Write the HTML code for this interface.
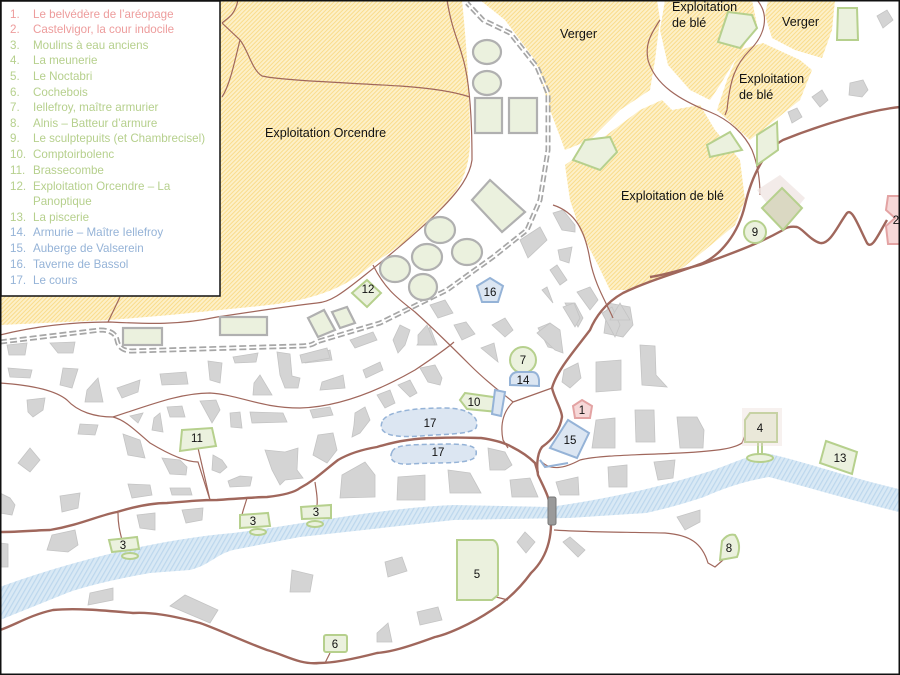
<!DOCTYPE html>
<html><head><meta charset="utf-8"><style>
html,body{margin:0;padding:0;background:#fff}
svg{display:block}
text{font-family:"Liberation Sans",sans-serif}
</style></head><body>
<svg width="900" height="675" viewBox="0 0 900 675" xmlns="http://www.w3.org/2000/svg">
<defs>
<pattern id="fh" width="3" height="3" patternUnits="userSpaceOnUse" patternTransform="rotate(45)">
<rect width="3" height="3" fill="#fdf0c8"/><rect width="1" height="3" fill="#f9dc8c"/></pattern>
<pattern id="wh" width="4" height="4" patternUnits="userSpaceOnUse" patternTransform="rotate(30)">
<rect width="4" height="4" fill="#d9e9f5"/><rect width="1.2" height="4" fill="#bcd7ed"/></pattern>
</defs>
<rect width="900" height="675" fill="#fff"/>
<g fill="url(#fh)">
<path d="M0,0 L462,0 C466,40 470,90 470,140 C470,175 455,195 440,210 C420,232 395,250 375,262 C350,285 320,300 260,306 L170,315 L110,320 L0,325 Z"/>
<path d="M480,0 L657,0 L660,20 L655,60 L650,90 L620,110 L590,140 L565,150 L550,110 L535,60 L505,20 Z"/>
<path d="M565,165 L600,140 L640,110 L662,100 L672,110 L700,105 L715,130 L740,160 L745,200 L735,225 L705,250 L680,270 L630,290 L610,290 L598,265 L580,230 L570,200 Z"/>
<path d="M665,0 L752,0 L757,25 L735,60 L720,85 L710,100 L690,90 L668,65 L660,30 Z"/>
<path d="M768,0 L835,0 L832,30 L822,58 L795,50 L772,38 L765,15 Z"/>
<path d="M763,43 L800,60 L812,70 L800,100 L750,140 L717,110 L727,80 L740,50 Z"/>
</g>
<path d="M0,587 C60,565 150,540 233,533 C300,525 380,508 454,505 L550,507 C600,500 650,490 704,473 C730,465 745,456 765,453 C800,460 850,478 903,490 L903,513 C850,500 800,485 769,477 C740,482 720,490 704,497 C680,505 660,510 646,513 L569,518 L454,520 L300,537 L233,550 C215,555 210,565 190,570 L150,573 C110,580 80,588 67,593 L0,620 Z" fill="url(#wh)"/>
<path d="M0,342 L100,330 Q115,330 117,340 Q119,351 132,351 L300,346 Q312,346 316,342 L380,323 L447,290 L493,257 L527,230 L540,200 L548,150 L548,93 L537,67 L510,33 L483,20 L467,3" fill="none" stroke="#a6a6a6" stroke-width="5" stroke-dasharray="7,3"/>
<path d="M0,342 L100,330 Q115,330 117,340 Q119,351 132,351 L300,346 Q312,346 316,342 L380,323 L447,290 L493,257 L527,230 L540,200 L548,150 L548,93 L537,67 L510,33 L483,20 L467,3" fill="none" stroke="#fff" stroke-width="1.6"/>
<g fill="#d4d4d4" stroke="#c4c4c4" stroke-width="0.8">
<polygon points="7,345 27,343 25,355 9,355"/><polygon points="50,343 75,342 73,353 58,353"/>
<polygon points="8,368 32,370 30,378 10,377"/><polygon points="63,368 78,369 72,388 60,385"/>
<polygon points="98,378 103,402 85,402 87,390"/><polygon points="117,388 140,380 138,392 122,398"/>
<polygon points="160,374 186,372 188,384 162,385"/><polygon points="208,361 222,363 220,383 210,380"/>
<polygon points="233,357 258,353 256,362 235,363"/><polygon points="277,352 290,354 292,376 300,378 298,388 285,388 280,375"/>
<polygon points="260,375 272,395 253,395 254,383"/><polygon points="302,358 330,350 332,360 305,363"/>
<polygon points="322,382 343,375 345,388 320,390"/><polygon points="350,340 373,332 377,340 355,348"/>
<polygon points="400,325 410,330 405,345 398,353 393,340"/><polygon points="430,327 437,345 417,345"/>
<polygon points="363,370 380,362 383,370 366,378"/><polygon points="420,368 435,365 442,378 440,385 428,382"/>
<polygon points="398,385 410,380 417,393 410,397"/><polygon points="377,395 390,390 395,403 385,408"/>
<polygon points="355,413 365,407 370,420 360,433 352,437 354,425"/><polygon points="310,410 330,407 333,415 313,418"/>
<polygon points="318,435 333,433 337,450 327,463 313,455"/><polygon points="265,450 285,452 298,448 297,470 303,478 285,480 280,485 272,470"/>
<polygon points="250,412 283,413 287,422 252,423"/><polygon points="230,413 240,412 242,428 231,427"/>
<polygon points="200,401 216,400 220,410 212,423"/><polygon points="167,407 182,406 185,417 170,417"/>
<polygon points="160,413 163,432 152,430 154,418"/><polygon points="130,416 143,413 138,423"/>
<polygon points="123,434 140,440 145,458 128,455"/><polygon points="80,424 98,425 95,435 78,434"/>
<polygon points="27,400 45,398 43,410 33,417 28,412"/><polygon points="30,448 40,460 30,472 18,463"/>
<polygon points="162,458 180,460 187,467 186,475 170,474"/><polygon points="213,455 222,460 227,467 220,473 212,470"/>
<polygon points="228,481 240,476 252,477 250,486 230,487"/><polygon points="128,484 150,485 152,495 132,498"/>
<polygon points="170,488 190,488 192,495 172,495"/><polygon points="60,496 80,493 78,508 62,512"/>
<polygon points="0,493 10,498 15,505 12,515 0,513"/><polygon points="137,515 155,513 155,530 140,528"/>
<polygon points="182,510 203,508 202,520 186,523"/><polygon points="52,535 75,530 78,545 68,552 47,550"/>
<polygon points="0,543 8,544 8,567 0,567"/><polygon points="342,475 365,462 375,475 375,497 340,498"/>
<polygon points="398,477 425,475 425,500 397,500"/><polygon points="90,593 113,588 113,600 88,605"/>
<polygon points="170,606 185,595 218,610 210,623"/><polygon points="292,570 313,575 310,592 290,592"/>
<polygon points="385,562 402,557 407,571 388,577"/><polygon points="377,633 388,623 392,642 377,642"/>
<polygon points="417,612 438,607 442,620 420,625"/><polygon points="488,448 505,452 512,465 505,470 490,470"/>
<polygon points="510,480 530,478 538,497 512,497"/><polygon points="448,470 470,473 481,493 450,493"/>
<polygon points="556,482 578,477 579,495 560,495"/><polygon points="608,467 627,465 627,487 609,487"/>
<polygon points="654,462 675,460 673,478 658,480"/><polygon points="596,420 615,418 615,448 592,448"/>
<polygon points="635,410 654,410 655,442 636,442"/><polygon points="677,417 697,417 704,430 703,448 680,448"/>
<polygon points="596,362 621,360 621,390 596,392"/><polygon points="640,345 655,346 656,375 667,387 642,385"/>
<polygon points="564,370 578,363 581,378 570,388 562,382"/><polygon points="608,303 630,307 633,325 623,337 604,333"/>
<polygon points="677,517 700,510 700,522 685,530"/><polygon points="517,542 525,532 535,542 526,553"/>
<polygon points="563,542 570,537 585,550 578,557"/><polygon points="538,328 550,323 560,338 560,350 548,347"/>
<polygon points="565,303 575,303 583,318 578,327"/><polygon points="492,325 505,318 513,330 505,337"/>
<polygon points="454,325 466,322 475,334 462,340"/><polygon points="481,348 494,343 498,362"/>
<polygon points="553,213 563,210 575,225 575,232 562,230"/><polygon points="520,240 540,227 547,240 528,258"/>
<polygon points="558,250 572,247 569,263 560,260"/><polygon points="550,270 557,265 567,280 560,285"/>
<polygon points="542,290 547,287 553,303"/><polygon points="577,292 590,287 598,300 590,310"/>
<polygon points="563,307 574,303 580,318 575,327"/><polygon points="537,333 550,323 560,330 563,353 555,350"/>
<polygon points="602,313 612,307 620,325 615,337"/><polygon points="430,305 445,300 453,313 438,318"/>
<polygon points="418,335 427,325 435,345 418,345"/><polygon points="300,355 327,348 330,358 302,363"/>
<polygon points="610,320 620,303 630,320"/><polygon points="877,16 887,10 893,20 883,28"/>
<polygon points="850,83 863,80 868,90 862,97 849,95"/><polygon points="812,97 822,90 828,100 820,107"/>
<polygon points="788,112 797,108 802,117 792,123"/>
</g>
<g fill="none" stroke="#a0675c" stroke-width="1.2">
<path d="M108,322 L120,297"/>
<path d="M0,335 C40,325 80,322 110,322 C150,324 180,325 217,317 C250,312 290,306 317,303 C330,302 340,295 365,275 C390,255 420,230 440,210 C460,190 470,175 472,160 C472,120 470,80 462,55 C458,40 452,30 447,0"/>
<path d="M222,23 L240,40 C235,60 230,85 222,97 M240,40 C248,50 252,70 262,76 C280,80 330,82 400,86 C430,88 455,92 470,97"/>
<path d="M222,23 C228,18 235,15 238,0"/>
<path d="M373,265 C385,290 400,300 415,312 C435,330 450,345 470,365 C490,385 505,395 513,402"/>
<path d="M0,383 C30,385 55,390 67,400 C78,412 95,417 113,417 C125,420 135,430 150,443 C165,452 185,462 198,462 L210,500"/>
<path d="M113,417 C150,405 180,393 210,393 C240,395 260,408 300,408 C340,407 380,390 415,370 C430,360 445,350 454,342"/>
<path d="M198,448 L210,500"/>
<path d="M513,402 L552,388 M513,402 C503,412 500,425 503,440 L508,448"/>
<path d="M540,460 C550,472 565,468 580,460 C600,455 640,455 680,453 C720,451 735,448 742,443 L746,433"/>
<path d="M554,530 C580,532 620,532 665,533 C690,535 702,543 708,563 L715,567 L723,560"/>
<path d="M496,597 L508,600"/>
<path d="M118,513 C118,525 120,532 122,540 M247,498 C245,505 243,510 242,515 M315,482 C316,490 318,498 317,505 M325,663 L330,653"/>
<path d="M660,20 C650,35 645,45 648,60 C655,85 680,100 710,112 C730,120 745,135 752,150 C758,165 760,180 760,195"/>
<path d="M757,0 C770,15 765,35 750,50 C735,65 730,80 727,110 L725,115"/>
<path d="M553,205 C575,212 585,230 590,260 C595,285 605,300 613,318"/>
</g>
<g fill="none" stroke="#a0675c" stroke-width="2.4">
<path d="M900,107 C870,110 820,125 783,140 C765,150 752,175 745,205 C738,235 720,255 703,263 C680,272 650,280 623,293 C605,303 595,318 590,330 C575,350 557,370 552,388 C555,400 562,410 562,417 C560,430 552,440 542,447 C536,455 537,470 538,475 C545,490 550,498 550,510 C553,530 550,555 531,573 C515,595 500,605 492,610 C470,625 445,635 435,637 C405,648 390,652 377,653 C350,660 330,663 319,663 C300,665 285,655 267,650 C240,640 220,630 200,623 C170,615 150,612 133,613 C100,610 75,608 53,610 C30,615 15,625 0,630"/>
<path d="M887,220 C878,235 872,250 867,243 C858,225 852,208 847,213 C838,225 830,245 820,243 C810,240 802,228 797,227 C790,226 785,228 783,230 C765,240 750,247 700,265 C680,270 665,275 650,277"/>
<path d="M0,532 C20,532 40,530 50,530 C80,525 100,515 117,512 C140,505 155,503 167,503 C190,501 200,500 217,500 C245,498 260,497 267,497 C285,495 295,492 300,488 C315,480 325,470 338,460 C350,453 365,449 377,447 C400,440 420,438 435,438 C460,437 475,438 481,438 C495,440 505,443 512,447 C522,452 530,458 535,463 L538,473"/>
</g>
<rect x="548" y="497" width="8" height="28" rx="2" fill="#9a9a9a" stroke="#777"/>
<g fill="#ebf1de" stroke="#b0b0b0" stroke-width="2.2">
<ellipse cx="487" cy="52" rx="14" ry="12"/><ellipse cx="487" cy="83" rx="14" ry="12"/>
<rect x="475" y="98" width="27" height="35"/><rect x="509" y="98" width="28" height="35"/>
<polygon points="490,180 525,212 502,232 472,200"/>
<ellipse cx="440" cy="230" rx="15" ry="13"/><ellipse cx="467" cy="252" rx="15" ry="13"/>
<ellipse cx="427" cy="257" rx="15" ry="13"/><ellipse cx="395" cy="269" rx="15" ry="13"/>
<ellipse cx="423" cy="287" rx="14" ry="13"/>
<rect x="123" y="328" width="39" height="17"/><rect x="220" y="317" width="47" height="18"/>
<polygon points="308,318 324,310 335,330 318,337"/><polygon points="332,312 347,307 355,323 340,328"/>
</g>
<g fill="#ebf1de" stroke="#b6d08d" stroke-width="2">
<polygon points="367,280 381,293 367,307 352,293"/>
<polygon points="728,12 752,15 757,28 740,48 718,42"/>
<polygon points="838,8 857,8 858,40 837,40"/>
<polygon points="585,140 610,137 617,152 600,170 573,160"/>
<polygon points="707,145 730,132 742,150 710,157"/>
<polygon points="757,135 777,122 778,150 757,165"/>
<circle cx="755" cy="232" r="11"/>
<circle cx="523" cy="360" r="13"/>
<polygon points="465,393 500,398 498,412 467,409 460,400"/>
<polygon points="182,430 212,428 216,446 180,451"/>
<polygon points="109,540 137,537 139,549 112,552"/><ellipse cx="130" cy="556" rx="8" ry="3"/>
<polygon points="240,515 268,513 270,526 240,528"/><ellipse cx="258" cy="532" rx="8" ry="3"/>
<polygon points="301,507 331,505 331,518 302,519"/><ellipse cx="315" cy="524" rx="8" ry="3"/>
<path d="M750,413 L777,413 L777,442 L745,442 L745,420 Z"/>
<path d="M758,442 L758,454 M762,442 L762,454"/><ellipse cx="760" cy="458" rx="13" ry="4"/>
<polygon points="826,441 857,452 852,474 820,463"/>
<path d="M722,541 Q728,533 735,535 Q742,545 737,557 L720,560 Z"/>
<path d="M457,540 L493,540 Q498,542 498,550 L498,595 L492,600 L457,600 Z"/>
<rect x="324" y="635" width="23" height="17" rx="2"/>
</g>
<polygon points="757,190 780,175 805,198 783,225" fill="#f0e6e3" opacity="0.8"/>
<polygon points="782,188 802,208 783,230 762,208" fill="#dad8c2" stroke="#b6d08d" stroke-width="2"/>
<rect x="742" y="408" width="40" height="38" fill="#e8d8d2" opacity="0.35"/>
<g fill="#f6d8d8" stroke="#e3a3a3" stroke-width="2">
<polygon points="582,400 592,406 590,418 575,418 573,406"/>
<path d="M900,196 L888,196 L886,210 L895,218 L886,226 L888,244 L900,244"/>
</g>
<g fill="#dce6f2" stroke="#95b3d7" stroke-width="2">
<polygon points="490,278 503,286 498,302 482,302 477,286"/>
<path d="M510,385 L510,378 Q512,372 518,372 L532,372 Q538,372 539,380 L539,386 Z"/>
<polygon points="495,390 505,392 501,416 492,414"/>
<polygon points="568,420 589,433 577,458 550,448"/>
<polyline points="540,460 545,467 568,463" fill="none"/>
</g>
<g fill="#dce6f2" stroke="#95b3d7" stroke-width="1.5" stroke-dasharray="5,3">
<path d="M383,420 C390,410 420,408 445,408 C470,408 480,418 476,428 C470,435 440,434 420,436 C395,438 375,435 383,420 Z"/>
<path d="M392,452 C395,443 420,445 445,444 C470,444 478,446 476,455 C474,465 440,462 410,464 C395,465 388,460 392,452 Z"/>
</g>
<g font-size="12.6" fill="#111">
<text x="265" y="137">Exploitation Orcendre</text>
<text x="560" y="38">Verger</text>
<text x="672" y="11">Exploitation</text><text x="672" y="27">de blé</text>
<text x="782" y="26">Verger</text>
<text x="739" y="83">Exploitation</text><text x="739" y="99">de blé</text>
<text x="621" y="200">Exploitation de blé</text>
</g>
<g font-size="11.5" fill="#111" text-anchor="middle">
<text x="368" y="293">12</text><text x="490" y="296">16</text><text x="755" y="236">9</text>
<text x="523" y="364">7</text><text x="523" y="384">14</text><text x="474" y="406">10</text>
<text x="582" y="414">1</text><text x="570" y="444">15</text><text x="430" y="427">17</text><text x="438" y="456">17</text>
<text x="197" y="442">11</text><text x="123" y="549">3</text><text x="253" y="525">3</text><text x="316" y="516">3</text>
<text x="760" y="432">4</text><text x="840" y="462">13</text><text x="729" y="552">8</text>
<text x="477" y="578">5</text><text x="335" y="648">6</text><text x="896" y="224">2</text>
</g>
<rect x="1" y="1" width="219" height="295" fill="#fff" stroke="#111" stroke-width="1.5"/>
<g font-size="11.6">
<g fill="#ed9c9c"><text x="10" y="18">1.</text><text x="33" y="18">Le belvédère de l’aréopage</text>
<text x="10" y="33">2.</text><text x="33" y="33">Castelvigor, la cour indocile</text></g>
<g fill="#b6d08d">
<text x="10" y="49">3.</text><text x="33" y="49">Moulins à eau anciens</text>
<text x="10" y="64">4.</text><text x="33" y="64">La meunerie</text>
<text x="10" y="80">5.</text><text x="33" y="80">Le Noctabri</text>
<text x="10" y="96">6.</text><text x="33" y="96">Cochebois</text>
<text x="10" y="111">7.</text><text x="33" y="111">Iellefroy, maître armurier</text>
<text x="10" y="127">8.</text><text x="33" y="127">Alnis – Batteur d’armure</text>
<text x="10" y="142">9.</text><text x="33" y="142">Le sculptepuits (et Chambrecisel)</text>
<text x="10" y="158">10.</text><text x="33" y="158">Comptoirbolenc</text>
<text x="10" y="174">11.</text><text x="33" y="174">Brassecombe</text>
<text x="10" y="190">12.</text><text x="33" y="190">Exploitation Orcendre – La</text>
<text x="33" y="205">Panoptique</text>
<text x="10" y="221">13.</text><text x="33" y="221">La piscerie</text></g>
<g fill="#95b3d7">
<text x="10" y="236">14.</text><text x="33" y="236">Armurie – Maître Iellefroy</text>
<text x="10" y="252">15.</text><text x="33" y="252">Auberge de Valserein</text>
<text x="10" y="268">16.</text><text x="33" y="268">Taverne de Bassol</text>
<text x="10" y="284">17.</text><text x="33" y="284">Le cours</text></g>
</g>
<rect x="0.5" y="0.5" width="899" height="674" fill="none" stroke="#111" stroke-width="2"/>
</svg>
</body></html>
